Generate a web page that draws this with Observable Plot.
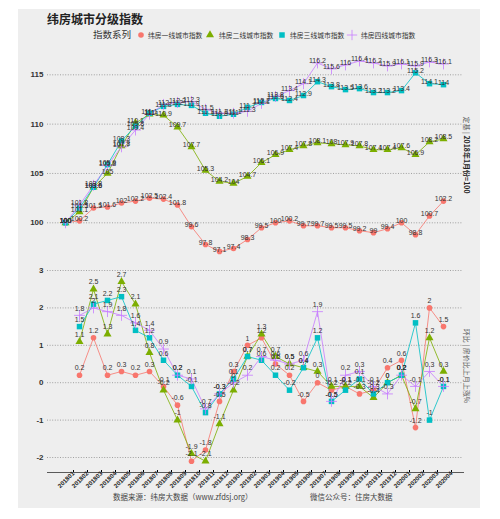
<!DOCTYPE html>
<html><head><meta charset="utf-8">
<script src="https://cdn.jsdelivr.net/npm/d3@7"></script>
<script src="https://cdn.jsdelivr.net/npm/@observablehq/plot@0.6"></script>
<style>
body{margin:0;background:#fff;}
#wrap{position:relative;width:500px;height:519px;overflow:hidden;font-family:"Noto Sans CJK SC","Noto Sans",sans-serif;}
#panel{position:absolute;left:18px;top:9px;width:462px;height:499px;background:#eeeeee;}
.abs{position:absolute;white-space:nowrap;line-height:1;}
.mid{transform:translateY(-50%);}
.strip{position:absolute;white-space:nowrap;line-height:1;font-size:7px;color:#555;transform:translate(-50%,-50%) rotate(90deg);}
.plotbox{position:absolute;left:0;}
</style></head>
<body><div id="wrap"><div id="panel"></div></div>
<script>
const months = ["201801","201802","201803","201804","201805","201806","201807","201808","201809","201810","201811","201812","201901","201902","201903","201904","201905","201906","201907","201908","201909","201910","201911","201912","202001","202002","202003","202004"];
const seriesNames = ["纬房一线城市指数","纬房二线城市指数","纬房三线城市指数","纬房四线城市指数"];
const seriesColors = ["#F8766D","#7CAE00","#00BFC4","#C77CFF"];
// 定基指数 (2018年1月=100)
const idxTier1 = [100,100.2,101.5,101.6,102,102.2,102.5,102.4,101.8,99.6,97.8,97.1,97.4,98.3,99.5,100,100.2,99.7,99.7,99.5,99.5,99.2,99,99.4,100,98.8,100.7,102.2];
const idxTier2 = [100,101.1,103.6,105,107.8,110.1,111,110.9,109.7,107.7,105.3,104.2,104,104.7,106.1,106.9,107.4,107.8,108.1,108,107.9,107.8,107.4,107.4,107.6,106.9,108.2,108.5];
const idxTier3 = [100,101.5,103.6,105.9,108.3,109.8,111.1,111.8,112,111.9,111.1,110.8,111,111.7,112.2,112.6,112.4,112.9,114.3,113.8,113.5,113.6,113.2,113.2,113.4,115.2,114.1,114];
const idxTier4 = [100,101.8,103.8,105.8,107.7,109.4,111,112,112.2,112.3,111.5,111.1,111.1,111.3,112.1,112.8,113.4,114.1,116.2,115.6,116,116.4,116.2,115.9,116.1,115.9,116.3,116.1];
// 环比 (201802 - 202004)
const momTier1 = [0.2,1.2,0.2,0.3,0.2,0.3,-0.1,-0.6,-2.1,-1.8,-0.5,0.3,1,1.2,0.5,0.2,-0.5,0,-0.2,-0.1,-0.3,-0.2,0.4,0.6,-1.2,2,1.5];
const momTier2 = [1.1,2.5,1.3,2.7,2.1,0.8,-0.2,-1,-1.9,-2.1,-1.1,-0.2,0.7,1.3,0.7,0.5,0.4,0.3,-0.1,-0.1,-0.1,-0.4,0,0.2,-0.7,1.2,0.3];
const momTier3 = [1.5,2.1,2.2,2.3,1.4,1.2,0.6,0.2,-0.1,-0.8,-0.3,0.1,0.7,0.6,0.2,-0.2,0.4,1.2,-0.5,-0.2,0.1,-0.3,0,0.2,1.6,-1,-0.1];
const momTier4 = [1.8,2,1.9,1.8,1.6,1.4,0.9,0.2,0.1,-0.7,-0.3,0,0.2,0.7,0.6,0.5,0.6,1.9,-0.5,0.2,0.3,-0.1,-0.3,0.2,-0.1,0.3,-0.1];
const topTicks = [100,105,110,115];
const bottomTicks = [-2,-1,0,1,2,3];
const titleText = "纬房城市分级指数";
const legendTitle = "指数系列";
const stripTop = ["定基 | ","2018年1月份=100"];
const stripBottom = "环比 | 房价比上月上涨%";
const captionLeft = "数据来源：纬房大数据（www.zfdsj.org）";
const captionRight = "微信公众号：住房大数据";

const idxAll = [idxTier1, idxTier2, idxTier3, idxTier4];
const momAll = [momTier1, momTier2, momTier3, momTier4];
const symbols = ["circle","triangle","square","plus"];
const radii = [2.8, 3.0, 3.1, 3.6];

function rows(arrs, ms) {
  return arrs.map((a, s) => a.map((v, i) => ({series: s, month: ms[i], value: v})));
}
const topRows = rows(idxAll, months);
const botRows = rows(momAll, months.slice(1));

const numFont = "'Liberation Sans', Arial, sans-serif";

function seriesMarks(data, labelDy) {
  const m = [];
  data.forEach((d, s) => m.push(Plot.line(d, {x: "month", y: "value", stroke: seriesColors[s], strokeWidth: 1, strokeOpacity: 0.8})));
  data.forEach((d, s) => {
    if (symbols[s] === "plus") m.push(Plot.dot(d, {x: "month", y: "value", symbol: "plus", r: radii[s], stroke: seriesColors[s], strokeWidth: 0.8}));
    else m.push(Plot.dot(d, {x: "month", y: "value", symbol: symbols[s], r: radii[s], fill: seriesColors[s], stroke: "none"}));
  });
  data.forEach((d, s) => m.push(Plot.text(d, {x: "month", y: "value", text: r => String(r.value), dy: labelDy, fontSize: 7, fill: "#333", fontFamily: numFont})));
  return m;
}

const common = {
  width: 500, marginLeft: 47, marginRight: 37,
  style: {background: "transparent", fontFamily: numFont, overflow: "visible"}
};

const topPlot = Plot.plot({
  ...common, height: 210, marginTop: 0, marginBottom: 0,
  x: {type: "point", domain: months, range: [56, 452], padding: 0, axis: null},
  y: {domain: [100, 115], range: [172.3, 24.3]},
  marks: [
    Plot.ruleY(topTicks, {stroke: "#8c8c8c", strokeWidth: 0.8, strokeDasharray: "1,1.6"}),
    Plot.axisY(topTicks, {tickSize: 0, tickPadding: 4, fontSize: 8, fontWeight: "bold", fill: "#333", label: null, tickFormat: d => String(d)}),
    ...seriesMarks(topRows, -2)
  ]
});

const botPlot = Plot.plot({
  ...common, height: 235, marginTop: 5, marginBottom: 18,
  x: {type: "point", domain: months, range: [56, 452], padding: 0},
  y: {domain: [-2, 3], range: [202, 15]},
  marks: [
    Plot.ruleY(bottomTicks, {stroke: "#8c8c8c", strokeWidth: 0.8, strokeDasharray: "1,1.6"}),
    Plot.axisY(bottomTicks, {tickSize: 0, tickPadding: 4, fontSize: 8, fontWeight: "bold", fill: "#333", label: null, tickFormat: d => String(d)}),
    Plot.frame({anchor: "bottom", stroke: "#333", strokeWidth: 0.8}),
    Plot.axisX({tickRotate: -45, tickSize: 2, tickPadding: 0, fontSize: 6.2, fontWeight: "bold", fill: "#222", label: null, dx: 8, dy: -2}),
    ...seriesMarks(botRows, -7)
  ]
});

const wrap = document.getElementById("wrap");
function add(el, top) { const d = document.createElement("div"); d.className = "plotbox"; d.style.top = top + "px"; d.appendChild(el); wrap.appendChild(d); }
add(topPlot, 50);
add(botPlot, 255);

function txt(text, left, top, css) {
  const d = document.createElement("div"); d.className = "abs mid"; d.textContent = text;
  d.style.left = left + "px"; d.style.top = top + "px"; Object.assign(d.style, css || {});
  wrap.appendChild(d); return d;
}
txt(titleText, 47, 19, {fontSize: "12px", fontWeight: "bold", color: "#222"});
txt(legendTitle, 93, 34.5, {fontSize: "9.5px", color: "#333"});
const legX = [141, 210, 282, 352];
const legTextX = [148, 219, 290, 361];
seriesNames.forEach((n, s) => {
  const sv = d3.create("svg").attr("width", 12).attr("height", 12)
    .style("position", "absolute").style("left", (legX[s] - 6) + "px").style("top", (34.5 - 6) + "px");
  const sym = {circle: d3.symbolCircle, triangle: d3.symbolTriangle, square: d3.symbolSquare, plus: d3.symbolPlus}[symbols[s]];
  const size = Math.PI * radii[s] * radii[s];
  const p = sv.append("path").attr("transform", "translate(6,6)").attr("d", d3.symbol(sym, symbols[s] === "plus" ? size * 0.9 : size)());
  if (symbols[s] === "plus") p.attr("fill", "none").attr("stroke", seriesColors[s]).attr("stroke-width", 0.8);
  else p.attr("fill", seriesColors[s]);
  wrap.appendChild(sv.node());
  txt(n, legTextX[s], 34.5, {fontSize: "6.8px", color: "#333"});
});

const st = document.createElement("div"); st.className = "strip";
st.style.left = "466px"; st.style.top = "155px";
st.innerHTML = "<span>" + stripTop[0] + "</span><span style='font-weight:bold;color:#222'>" + stripTop[1] + "</span>";
wrap.appendChild(st);
const sb = document.createElement("div"); sb.className = "strip";
sb.style.left = "466px"; sb.style.top = "366px"; sb.textContent = stripBottom;
wrap.appendChild(sb);

txt(captionLeft, 113, 497, {fontSize: "7.5px", color: "#444"});
txt(captionRight, 310, 497, {fontSize: "7.5px", color: "#444"});
</script></body></html>
